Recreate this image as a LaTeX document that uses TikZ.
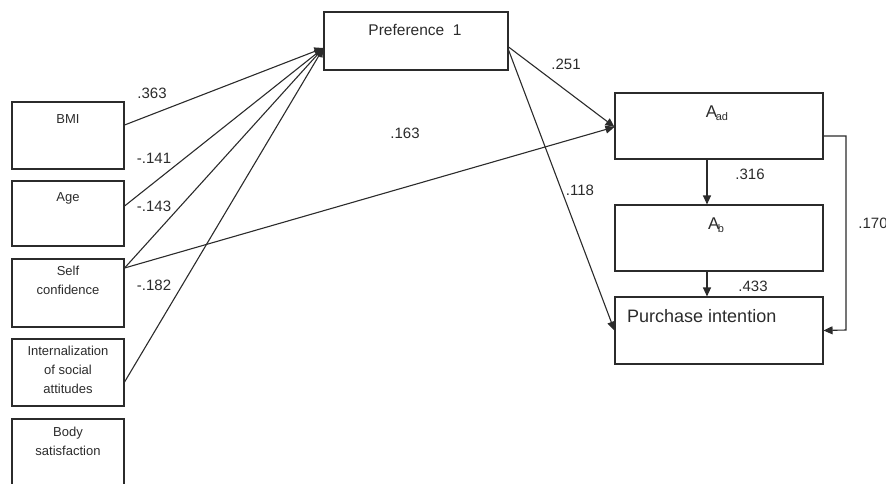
\documentclass[tikz,border=0pt]{standalone}
\usepackage{fontspec}
\setmainfont{Liberation Sans}
\usetikzlibrary{arrows.meta}
\definecolor{ink}{HTML}{2B2B2B}
\begin{document}
\begin{tikzpicture}[x=1pt,y=-1pt,
  box/.style={draw=ink, line width=1.1pt, rectangle, inner sep=0pt},
  lbl/.style={text=ink, font=\fontsize{13}{19}\selectfont, align=center, inner sep=0pt},
  coef/.style={text=ink, font=\fontsize{15}{15}\selectfont, inner sep=0pt},
  path/.style={draw=ink, line width=1.1pt},
  arr/.style={path, -{Triangle[length=9pt,width=8pt]}}]
\useasboundingbox (0,0) rectangle (886,483);

% exogenous variables
\node[box, minimum width=112, minimum height=67] (bmi)  at (68,135.5) {};
\node[box, minimum width=112, minimum height=65] (age)  at (68,213.5) {};
\node[box, minimum width=112, minimum height=68] (self) at (68,293) {};
\node[box, minimum width=112, minimum height=67] (intl) at (68,372.5) {};
\node[box, minimum width=112, minimum height=68] (body) at (68,453) {};

\node[lbl] (bmi-t)  at (68,119) {BMI};
\node[lbl] (age-t)  at (68,198) {Age};
\node[lbl, anchor=north] (self-t) at (68,266) {Self\\confidence};
\node[lbl, anchor=north] (intl-t) at (68,346) {Internalization\\of social\\attitudes};
\node[lbl, anchor=north] (body-t) at (68,427) {Body\\satisfaction};

% mediators and outcome
\node[box, minimum width=184, minimum height=58] (pref) at (416,41) {};
\node[text=ink, font=\fontsize{15.5}{15.5}\selectfont, inner sep=0pt] (pref-t) at (415,30) {Preference\ \ 1};

\node[box, minimum width=208, minimum height=66] (aad) at (719,126) {};
\node[text=ink, inner sep=0pt] (aad-t) at (717,113)
  {{\fontsize{17}{17}\selectfont A}\hspace{-1.5pt}\raisebox{-3.5pt}{\fontsize{11}{11}\selectfont ad}};

\node[box, minimum width=208, minimum height=66] (ab) at (719,238) {};
\node[text=ink, inner sep=0pt] (ab-t) at (716,225)
  {{\fontsize{17}{17}\selectfont A}\hspace{-1.5pt}\raisebox{-3.5pt}{\fontsize{11}{11}\selectfont b}};

\node[box, minimum width=208, minimum height=67] (pi) at (719,330.5) {};
\node[text=ink, font=\fontsize{18}{18}\selectfont, inner sep=0pt, anchor=west] (pi-t) at (627,316) {Purchase intention};

% paths to Preference 1
\draw[arr] ([yshift=10.5pt]bmi.east) -- ([yshift=-7pt]pref.west);
\draw[arr] ([yshift=7.5pt]age.east)  -- ([yshift=-7pt]pref.west);
\draw[arr] ([yshift=25pt]self.east)  -- ([yshift=-7pt]pref.west);
\draw[arr] ([yshift=-9.5pt]intl.east) -- ([yshift=-7pt]pref.west);

% paths to attitudes and intention
\draw[arr] ([yshift=25pt]self.east) -- ([yshift=-1pt]aad.west);
\draw[arr] ([yshift=-6pt]pref.east) -- ([yshift=-1pt]aad.west);
\draw[arr] ([yshift=-9pt]pref.east) -- (pi.west);
\draw[arr] ([xshift=-12pt]aad.south) -- ([xshift=-12pt]ab.north);
\draw[arr] ([xshift=-12pt]ab.south) -- ([xshift=-12pt]pi.north);
\coordinate (bend1) at (846,136);
\coordinate (bend2) at (846,330);
\draw[arr] ([yshift=-10pt]aad.east) -- (bend1) -- (bend2) -- (pi.east);

% coefficients
\node[coef] (c1)  at (152,93)  {.363};
\node[coef] (c2)  at (154,158) {-.141};
\node[coef] (c3)  at (154,206) {-.143};
\node[coef] (c4)  at (154,285) {-.182};
\node[coef] (c5)  at (405,133) {.163};
\node[coef] (c6)  at (566,64)  {.251};
\node[coef] (c7)  at (580,190) {.118};
\node[coef] (c8)  at (750,174) {.316};
\node[coef] (c9)  at (753,286) {.433};
\node[coef] (c10) at (873,223) {.170};
\end{tikzpicture}
\end{document}
